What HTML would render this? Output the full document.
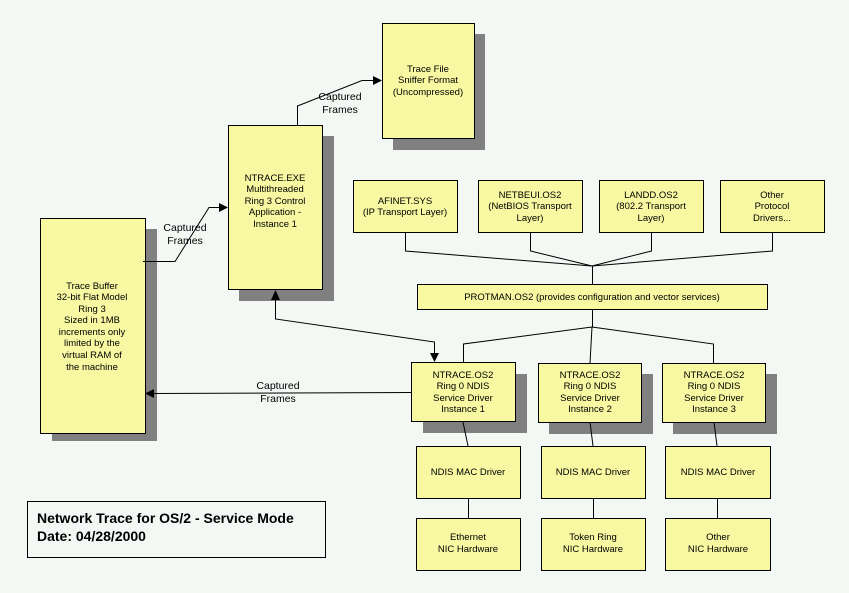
<!DOCTYPE html><html><head><style>body{margin:0;background:#f4f8f4}svg{display:block}</style></head><body>
<svg width="849" height="593" xmlns="http://www.w3.org/2000/svg" font-family="Liberation Sans, sans-serif" font-size="9" text-anchor="middle">
<rect width="849" height="593" fill="#f4f8f4"/>
<g fill="#808080">
<rect x="393" y="34" width="92" height="116"/>
<rect x="239" y="136" width="95" height="165"/>
<rect x="52" y="229" width="105" height="212"/>
<rect x="423" y="374" width="104" height="59"/>
<rect x="549" y="374" width="104" height="60"/>
<rect x="673" y="374" width="104" height="60"/>
</g>
<g fill="#f8f8a2" stroke="#000" stroke-width="1">
<rect x="382.5" y="23.5" width="92" height="115"/>
<rect x="228.5" y="125.5" width="94" height="164"/>
<rect x="40.5" y="218.5" width="105" height="215"/>
<rect x="353.5" y="180.5" width="104" height="52"/>
<rect x="478.5" y="180.5" width="104" height="52"/>
<rect x="599.5" y="180.5" width="104" height="52"/>
<rect x="720.5" y="180.5" width="104" height="52"/>
<rect x="417.5" y="284.5" width="350" height="25"/>
<rect x="411.5" y="362.5" width="104" height="59"/>
<rect x="538.5" y="363.5" width="103" height="59"/>
<rect x="662.5" y="363.5" width="103" height="59"/>
<rect x="416.5" y="446.5" width="104" height="52"/>
<rect x="541.5" y="446.5" width="104" height="52"/>
<rect x="665.5" y="446.5" width="105" height="52"/>
<rect x="416.5" y="518.5" width="104" height="52"/>
<rect x="541.5" y="518.5" width="104" height="52"/>
<rect x="665.5" y="518.5" width="105" height="52"/>
</g>
<rect x="27.5" y="501.5" width="298" height="56" fill="#f4f8f4" stroke="#000"/>
<g fill="none" stroke="#000" stroke-width="1">
<polyline points="143,261.5 175,261.5 209,207.5 222,207.5"/>
<polyline points="297.5,125 297.5,106 362,80.5 376,80.5"/>
<polyline points="275.5,296 275.5,319 434.5,342 434.5,356"/>
<line x1="411" y1="392.5" x2="152" y2="393.5"/>
<polyline points="405.5,232 405.5,251 592,266"/>
<polyline points="530.5,232 530.5,251 592,266"/>
<polyline points="651.5,232 651.5,251 592,266"/>
<polyline points="772.5,232 772.5,251 592,266"/>
<line x1="592.5" y1="266" x2="592.5" y2="284"/>
<line x1="592.5" y1="310" x2="592.5" y2="327"/>
<polyline points="463.5,362 463.5,344 592,327 713.5,344 713.5,363"/>
<line x1="592" y1="327" x2="590" y2="363"/>
<line x1="463" y1="422" x2="468" y2="446"/>
<line x1="590" y1="422" x2="593" y2="446"/>
<line x1="714" y1="422" x2="717" y2="446"/>
<line x1="468.5" y1="499" x2="468.5" y2="518"/>
<line x1="593.5" y1="499" x2="593.5" y2="518"/>
<line x1="717.5" y1="499" x2="717.5" y2="518"/>
</g>
<g fill="#000">
<polygon points="228,207.5 219,203 219,212"/>
<polygon points="382,80.5 373,76 373,85"/>
<polygon points="275.5,290 271,300 280,300"/>
<polygon points="434.5,362 430,353 439,353"/>
<polygon points="145,393.5 154,389 154,398"/>
</g>
<g font-size="9.5">
<text x="428" y="72">Trace File</text><text x="428" y="83">Sniffer Format</text><text x="428" y="95">(Uncompressed)</text>
<text x="275" y="181">NTRACE.EXE</text><text x="275" y="192">Multithreaded</text><text x="275" y="204">Ring 3 Control</text><text x="275" y="215">Application -</text><text x="275" y="227">Instance 1</text>
<text x="92" y="289">Trace Buffer</text><text x="92" y="300">32-bit Flat Model</text><text x="92" y="312">Ring 3</text><text x="92" y="323">Sized in 1MB</text><text x="92" y="335">increments only</text><text x="92" y="346">limited by the</text><text x="92" y="358">virtual RAM of</text><text x="92" y="370">the machine</text>
<text x="405" y="204">AFINET.SYS</text><text x="405" y="215">(IP Transport Layer)</text>
<text x="530" y="198">NETBEUI.OS2</text><text x="530" y="209">(NetBIOS Transport</text><text x="530" y="221">Layer)</text>
<text x="651" y="198">LANDD.OS2</text><text x="651" y="209">(802.2 Transport</text><text x="651" y="221">Layer)</text>
<text x="772" y="198">Other</text><text x="772" y="209">Protocol</text><text x="772" y="221">Drivers...</text>
<text x="592" y="300">PROTMAN.OS2 (provides configuration and vector services)</text>
<text x="463" y="378">NTRACE.OS2</text><text x="463" y="389">Ring 0 NDIS</text><text x="463" y="401">Service Driver</text><text x="463" y="412">Instance 1</text>
<text x="590" y="378">NTRACE.OS2</text><text x="590" y="389">Ring 0 NDIS</text><text x="590" y="401">Service Driver</text><text x="590" y="412">Instance 2</text>
<text x="714" y="378">NTRACE.OS2</text><text x="714" y="389">Ring 0 NDIS</text><text x="714" y="401">Service Driver</text><text x="714" y="412">Instance 3</text>
<text x="468" y="475">NDIS MAC Driver</text><text x="593" y="475">NDIS MAC Driver</text><text x="718" y="475">NDIS MAC Driver</text>
<text x="468" y="540">Ethernet</text><text x="468" y="552">NIC Hardware</text>
<text x="593" y="540">Token Ring</text><text x="593" y="552">NIC Hardware</text>
<text x="718" y="540">Other</text><text x="718" y="552">NIC Hardware</text>
</g>
<g font-size="10.5">
<text x="340" y="100">Captured</text><text x="340" y="113">Frames</text>
<text x="185" y="231">Captured</text><text x="185" y="244">Frames</text>
<text x="278" y="389">Captured</text><text x="278" y="402">Frames</text>
</g>
<g font-size="14" font-weight="bold" text-anchor="start">
<text x="37" y="523">Network Trace for OS/2 - Service Mode</text>
<text x="37" y="541">Date: 04/28/2000</text>
</g>
</svg></body></html>
